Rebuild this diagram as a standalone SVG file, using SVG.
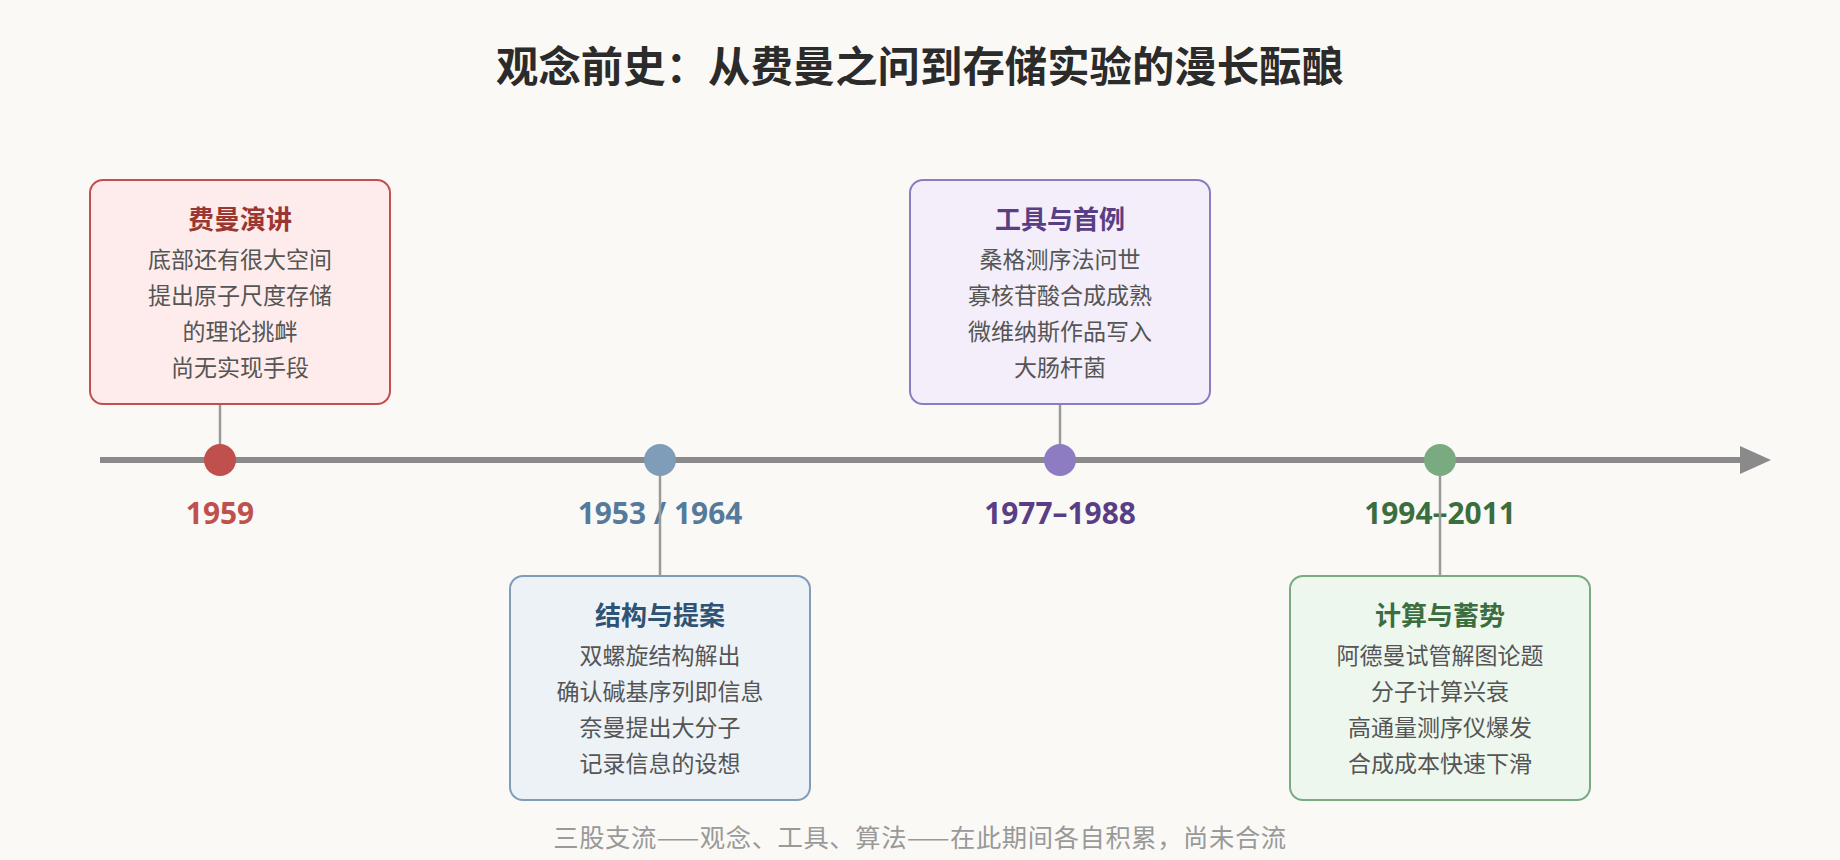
<svg xmlns="http://www.w3.org/2000/svg" width="1840" height="860" viewBox="0 0 1840 860">
<defs>
<style>
.cjk{font-family:"Noto Sans CJK SC","Noto Sans",sans-serif}
.title{font-size:42.4px;font-weight:700;fill:#2b2b2b;text-anchor:middle}
.box{stroke-width:2}
.bt{font-size:26px;font-weight:700;text-anchor:middle}
.body{font-size:23px;fill:#555555;text-anchor:middle}
.year{font-family:"Noto Sans","Noto Sans CJK SC",sans-serif;font-size:29.9px;font-weight:700;text-anchor:middle}
.stem{stroke:#9a9a9a;stroke-width:2.5;fill:none}
.foot{font-size:25.3px;fill:#999999;text-anchor:middle;letter-spacing:0.6px}
</style>
<marker id="arr" markerUnits="userSpaceOnUse" markerWidth="32" markerHeight="28" refX="1" refY="14" orient="auto">
<polygon points="0,0 31,14 0,28" fill="#8a8a8a"/>
</marker>
</defs>
<rect width="1840" height="860" fill="#faf9f5"/>
<text class="cjk title" x="920" y="82">观念前史：从费曼之问到存储实验的漫长酝酿</text>

<g id="years">
<text class="year" x="220" y="524" fill="#c0504d">1959</text>
<text class="year" x="660" y="524" fill="#557a9c">1953 / 1964</text>
<text class="year" x="1060" y="524" fill="#5a3e85">1977–1988</text>
<text class="year" x="1440" y="524" fill="#3b6e3f">1994–2011</text>
</g>

<g id="connectors">
<line x1="100" y1="460" x2="1741" y2="460" stroke="#8a8a8a" stroke-width="6" marker-end="url(#arr)"/>
<line class="stem" x1="220" y1="404" x2="220" y2="446"/>
<line class="stem" x1="660" y1="474" x2="660" y2="576"/>
<line class="stem" x1="1060" y1="404" x2="1060" y2="446"/>
<line class="stem" x1="1440" y1="474" x2="1440" y2="576"/>
</g>

<g id="dots">
<circle cx="220" cy="460" r="16" fill="#c0504d"/>
<circle cx="660" cy="460" r="16" fill="#7f9db9"/>
<circle cx="1060" cy="460" r="16" fill="#8e7cc3"/>
<circle cx="1440" cy="460" r="16" fill="#7aab80"/>
</g>

<g id="node-1959">
<rect class="box" x="90" y="180" width="300" height="224" rx="13" fill="#fdeceb" stroke="#c0504d"/>
<text class="cjk bt" x="240" y="229" fill="#9b3632">费曼演讲</text>
<text class="cjk body" x="240" y="268">底部还有很大空间</text>
<text class="cjk body" x="240" y="304">提出原子尺度存储</text>
<text class="cjk body" x="240" y="340">的理论挑衅</text>
<text class="cjk body" x="240" y="376">尚无实现手段</text>
</g>

<g id="node-1953">
<rect class="box" x="510" y="576" width="300" height="224" rx="13" fill="#edf2f7" stroke="#7f9db9"/>
<text class="cjk bt" x="660" y="625" fill="#2f5375">结构与提案</text>
<text class="cjk body" x="660" y="664">双螺旋结构解出</text>
<text class="cjk body" x="660" y="700">确认碱基序列即信息</text>
<text class="cjk body" x="660" y="736">奈曼提出大分子</text>
<text class="cjk body" x="660" y="772">记录信息的设想</text>
</g>

<g id="node-1977">
<rect class="box" x="910" y="180" width="300" height="224" rx="13" fill="#f3eef9" stroke="#8e7cc3"/>
<text class="cjk bt" x="1060" y="229" fill="#5a3e85">工具与首例</text>
<text class="cjk body" x="1060" y="268">桑格测序法问世</text>
<text class="cjk body" x="1060" y="304">寡核苷酸合成成熟</text>
<text class="cjk body" x="1060" y="340">微维纳斯作品写入</text>
<text class="cjk body" x="1060" y="376">大肠杆菌</text>
</g>

<g id="node-1994">
<rect class="box" x="1290" y="576" width="300" height="224" rx="13" fill="#edf7ee" stroke="#7aab80"/>
<text class="cjk bt" x="1440" y="625" fill="#3b6e3f">计算与蓄势</text>
<text class="cjk body" x="1440" y="664">阿德曼试管解图论题</text>
<text class="cjk body" x="1440" y="700">分子计算兴衰</text>
<text class="cjk body" x="1440" y="736">高通量测序仪爆发</text>
<text class="cjk body" x="1440" y="772">合成成本快速下滑</text>
</g>

<text class="cjk foot" x="920" y="847">三股支流——观念、工具、算法——在此期间各自积累，尚未合流</text>
</svg>
